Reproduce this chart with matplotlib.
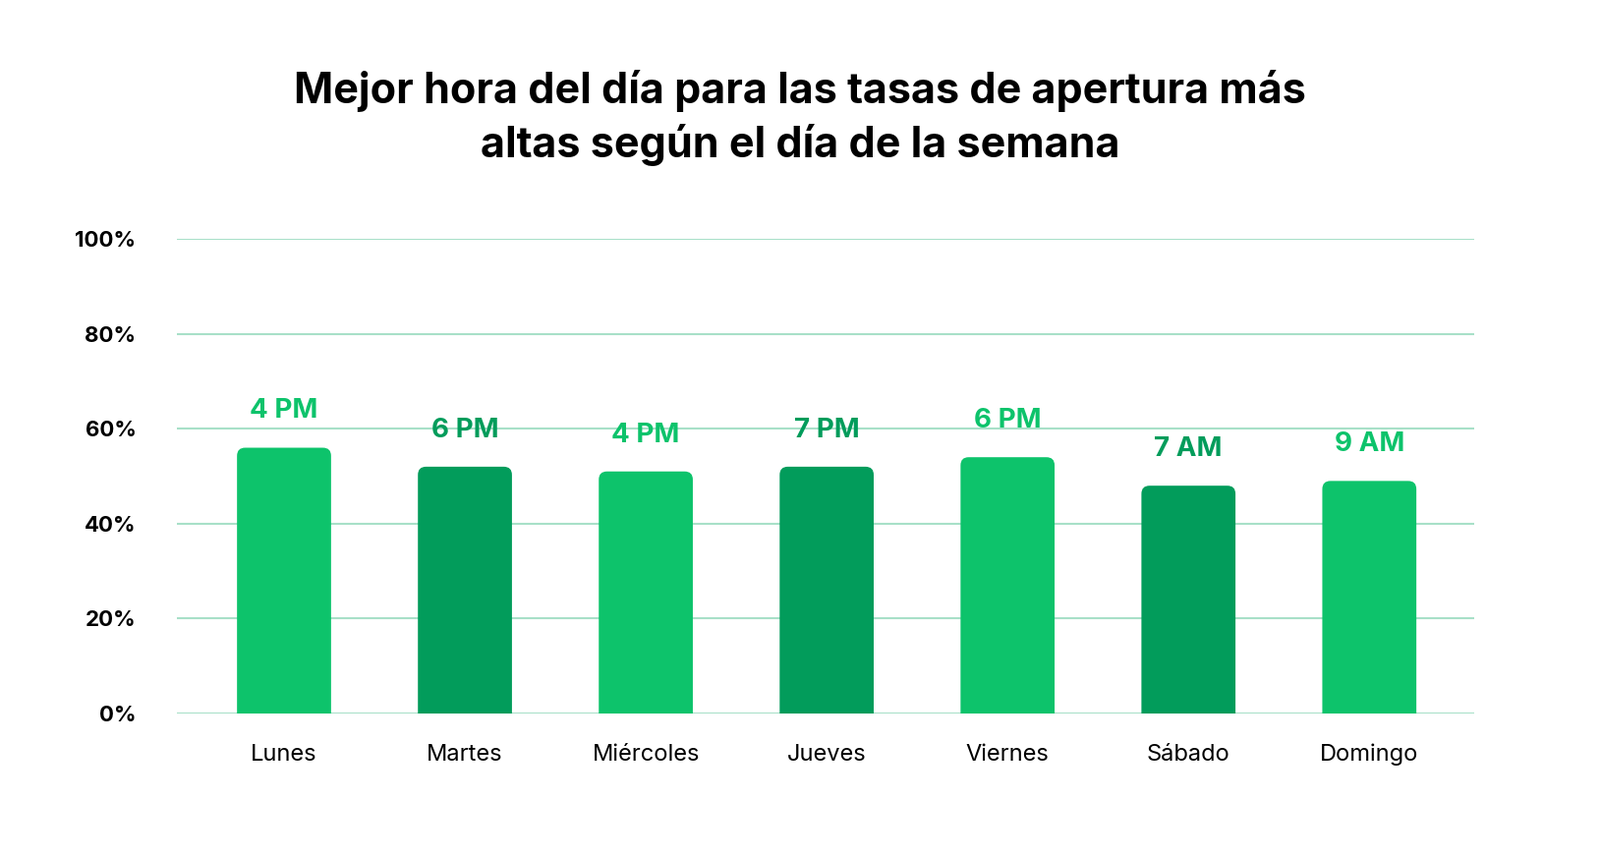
import matplotlib.pyplot as plt
from matplotlib.patches import FancyBboxPatch

days = ['Lunes', 'Martes', 'Miércoles', 'Jueves', 'Viernes', 'Sábado', 'Domingo']
values = [56, 52, 51, 52, 54, 48, 49]
hours = ['4 PM', '6 PM', '4 PM', '7 PM', '6 PM', '7 AM', '9 AM']
yticks = [0, 20, 40, 60, 80, 100]

light = '#0DC36B'
dark = '#029C5B'
colors = [light, dark, light, dark, light, dark, light]

plt.rcParams['font.family'] = 'Inter'
fig = plt.figure(figsize=(16.28, 8.72), dpi=100)
ax = fig.add_axes([0.1106, 0.1674, 0.8108, 0.5539])
ax.set_xlim(-0.592, 6.58)
ax.set_ylim(0, 100)

w = 0.52
bars = ax.bar(range(len(days)), values, width=w, color=colors, zorder=2)
# swap plain bars for ones with rounded tops
for i, (b, c) in enumerate(zip(bars, colors)):
    b.set_visible(False)
    p = FancyBboxPatch((b.get_x(), -4), w, b.get_height() + 4,
                       boxstyle='round,pad=0,rounding_size=0.045',
                       mutation_aspect=38, fc=c, ec='none', zorder=2)
    ax.add_patch(p)
    ax.text(b.get_x() + w / 2, b.get_height() + 5, hours[i],
            ha='center', va='bottom', fontsize=20, fontweight='bold', color=c, zorder=3)

ax.set_yticks(yticks)
ax.set_yticklabels([f'{t}%' for t in yticks], fontsize=16, fontweight='bold')
ax.set_xticks(range(len(days)))
ax.set_xticklabels(days, fontsize=17)
ax.tick_params(length=0)
ax.tick_params(axis='y', pad=30)
ax.tick_params(axis='x', pad=22)
ax.grid(axis='y', color='#A8E0C8', linewidth=1.5, zorder=0)
for s in ax.spines.values():
    s.set_visible(False)

fig.text(0.5, 0.862, 'Mejor hora del día para las tasas de apertura más\naltas según el día de la semana',
         ha='center', va='center', fontsize=31, fontweight='bold', linespacing=1.35)

fig.savefig('out.png', dpi=100)
